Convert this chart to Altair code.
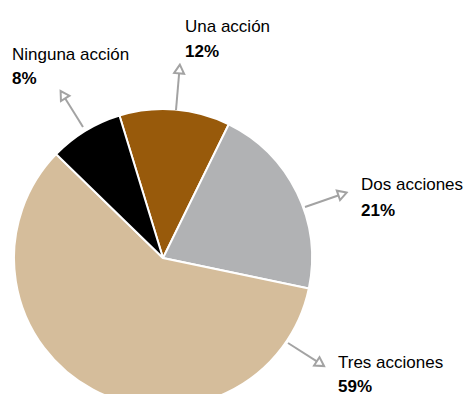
import math
import altair as alt
import pandas as pd

# ---- data ----
categories = ["Una acción", "Dos acciones", "Tres acciones", "Ninguna acción"]
shares = [12, 21, 59, 8]
pct_labels = ["12%", "21%", "59%", "8%"]
colors = ["#985A0B", "#B1B2B4", "#D5BD9B", "#000000"]

# label anchors (left x, baselines) in page pixels
label_x = [185, 361, 338, 12]
label_y = [32, 190, 368, 60]
pct_y = [57, 216, 392, 84]

# annotation arrows (start on pie edge -> arrow head centre), head rotation
arrow_x0 = [176, 305, 288, 83]
arrow_y0 = [110, 207, 343, 127]
arrow_x1 = [179.5, 342.5, 320.4, 62.9]
arrow_y1 = [69, 194, 363.7, 94.7]
arrow_rot = [5, 71, 123, 328]

# ---- layout ----
PIE_CX, PIE_CY, PIE_R = 163, 258, 149
START_DEG = -17
W, H = 456, 386
OFF = 8
FONT = "Liberation Sans, Arial, sans-serif"
ARROW = "#A3A3A3"

start = math.radians(START_DEG)

pie_df = pd.DataFrame({
    "cat": categories,
    "share": shares,
    "idx": list(range(len(categories))),
    "cx": [PIE_CX] * len(categories),
    "cy": [PIE_CY] * len(categories),
})
lab_df = pd.DataFrame({
    "cat": categories, "pct": pct_labels,
    "lx": label_x, "ly": label_y, "py": pct_y,
})
arr_df = pd.DataFrame({
    "x0": arrow_x0, "y0": arrow_y0, "x1": arrow_x1, "y1": arrow_y1, "rot": arrow_rot,
})

xs = alt.Scale(domain=[OFF, OFF + W], nice=False, zero=False)
ys = alt.Scale(domain=[OFF, OFF + H], nice=False, zero=False, reverse=True)

pie = alt.Chart(pie_df).mark_arc(outerRadius=PIE_R, stroke="white", strokeWidth=2).encode(
    x=alt.X("cx:Q", scale=xs, axis=None),
    y=alt.Y("cy:Q", scale=ys, axis=None),
    theta=alt.Theta("share:Q", stack=True,
                    scale=alt.Scale(range=[start, start + 2 * math.pi])),
    color=alt.Color("cat:N", scale=alt.Scale(domain=categories, range=colors), legend=None),
    order=alt.Order("idx:Q"),
)

lines = alt.Chart(arr_df).mark_rule(color=ARROW, strokeWidth=2).encode(
    x=alt.X("x0:Q", scale=xs, axis=None),
    y=alt.Y("y0:Q", scale=ys, axis=None),
    x2="x1:Q",
    y2="y1:Q",
)

heads = alt.Chart(arr_df).mark_point(
    shape="triangle-up", size=100, filled=True, fill="white",
    stroke=ARROW, strokeWidth=2, opacity=1,
).encode(
    x=alt.X("x1:Q", scale=xs, axis=None),
    y=alt.Y("y1:Q", scale=ys, axis=None),
    angle=alt.Angle("rot:Q", scale=None),
)

names = alt.Chart(lab_df).mark_text(
    align="left", baseline="alphabetic", font=FONT, fontSize=17, color="black",
).encode(
    x=alt.X("lx:Q", scale=xs, axis=None),
    y=alt.Y("ly:Q", scale=ys, axis=None),
    text="cat:N",
)

pcts = alt.Chart(lab_df).mark_text(
    align="left", baseline="alphabetic", font=FONT, fontSize=17,
    fontWeight="bold", color="black",
).encode(
    x=alt.X("lx:Q", scale=xs, axis=None),
    y=alt.Y("py:Q", scale=ys, axis=None),
    text="pct:N",
)

chart = alt.layer(pie, lines, heads, names, pcts).properties(
    width=W, height=H, autosize="none", padding=0,
).configure_view(stroke=None)

chart.save("out.html", embed_options={"renderer": "svg", "actions": False})
